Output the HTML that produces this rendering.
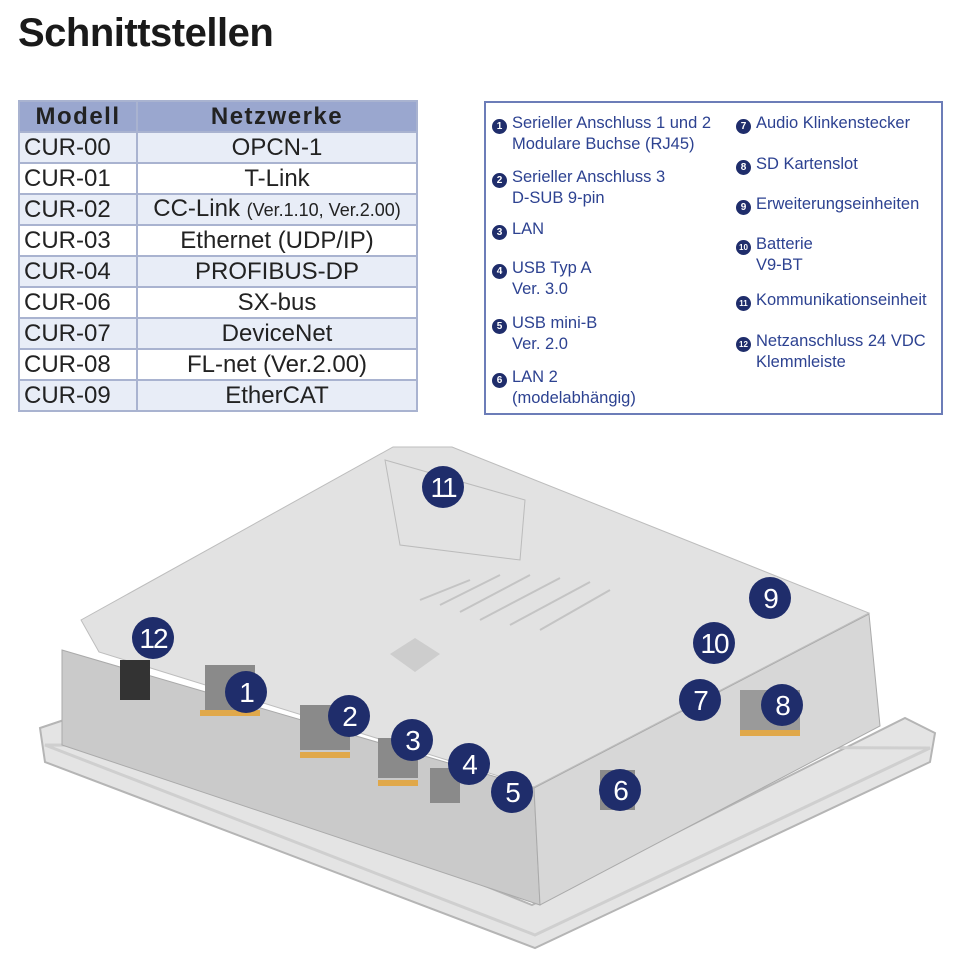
<!DOCTYPE html>
<html><head><meta charset="utf-8"><style>
body{margin:0;width:960px;height:960px;background:#fff;position:relative;overflow:hidden;font-family:"Liberation Sans",sans-serif;color:#222}
h1{position:absolute;left:18px;top:11px;margin:0;font-size:40px;font-weight:bold;letter-spacing:-0.5px;color:#1a1a1a}
table{position:absolute;left:18px;top:100px;border-collapse:collapse;width:400px}
tr{height:31px}
td{border:2px solid #a9b3d0;padding:0 4px;font-size:24px;line-height:27px;color:#222}
td.c{text-align:center}
tr.h td{background:#9aa7cf;font-weight:bold;letter-spacing:1.5px;text-align:center}
tr.o td{background:#e8edf7}
.leg{position:absolute;left:484px;top:101px;width:455px;height:310px;border:2px solid #6c7db8}
.it{position:absolute;font-size:16.5px;line-height:21px;color:#2d4291}
.b{display:inline-block;width:15px;height:15px;border-radius:50%;background:#1f2d6b;color:#fff;font-size:10px;line-height:15px;text-align:center;vertical-align:-1px;margin-right:5px;font-weight:bold}
.in{padding-left:20px}
</style></head><body>
<h1>Schnittstellen</h1>
<table>
<tr class="h"><td style="width:108px">Modell</td><td>Netzwerke</td></tr>
<tr class="o"><td>CUR-00</td><td class="c">OPCN-1</td></tr>
<tr><td>CUR-01</td><td class="c">T-Link</td></tr>
<tr class="o"><td>CUR-02</td><td class="c" style="white-space:nowrap;padding:0 1px">CC-Link <span style="font-size:18px">(Ver.1.10, Ver.2.00)</span></td></tr>
<tr><td>CUR-03</td><td class="c">Ethernet (UDP/IP)</td></tr>
<tr class="o"><td>CUR-04</td><td class="c">PROFIBUS-DP</td></tr>
<tr><td>CUR-06</td><td class="c">SX-bus</td></tr>
<tr class="o"><td>CUR-07</td><td class="c">DeviceNet</td></tr>
<tr><td>CUR-08</td><td class="c">FL-net (Ver.2.00)</td></tr>
<tr class="o"><td>CUR-09</td><td class="c">EtherCAT</td></tr>
</table>
<div class="leg"></div>
<div class="it" style="left:492px;top:113px"><span class="b">1</span>Serieller Anschluss 1 und 2<div class="in">Modulare Buchse (RJ45)</div></div>
<div class="it" style="left:492px;top:167px"><span class="b">2</span>Serieller Anschluss 3<div class="in">D-SUB 9-pin</div></div>
<div class="it" style="left:492px;top:219px"><span class="b">3</span>LAN</div>
<div class="it" style="left:492px;top:258px"><span class="b">4</span>USB Typ A<div class="in">Ver. 3.0</div></div>
<div class="it" style="left:492px;top:313px"><span class="b">5</span>USB mini-B<div class="in">Ver. 2.0</div></div>
<div class="it" style="left:492px;top:367px"><span class="b">6</span>LAN 2<div class="in">(modelabhängig)</div></div>
<div class="it" style="left:736px;top:113px"><span class="b">7</span>Audio Klinkenstecker</div>
<div class="it" style="left:736px;top:154px"><span class="b">8</span>SD Kartenslot</div>
<div class="it" style="left:736px;top:194px"><span class="b">9</span>Erweiterungseinheiten</div>
<div class="it" style="left:736px;top:234px"><span class="b" style="font-size:8px">10</span>Batterie<div class="in">V9-BT</div></div>
<div class="it" style="left:736px;top:290px"><span class="b" style="font-size:8px">11</span>Kommunikationseinheit</div>
<div class="it" style="left:736px;top:331px"><span class="b" style="font-size:8px">12</span>Netzanschluss 24 VDC<div class="in">Klemmleiste</div></div>

<svg width="960" height="960" style="position:absolute;left:0;top:0">
<polygon points="40,728 70,718 532,905 905,718 935,733 930,762 535,948 45,762" fill="#e4e4e4" stroke="#b5b5b5" stroke-width="2"/>
<polygon points="45,745 535,935 930,748" fill="none" stroke="#cfcfcf" stroke-width="3"/>
<polygon points="62,650 534,788 540,905 62,745" fill="#cacaca" stroke="#aaa"/>
<polygon points="534,788 869,614 880,726 540,905" fill="#d7d7d7" stroke="#aaa"/>
<polygon points="81,620 393,447 452,447 869,613 534,787 99,652" fill="#e2e2e2" stroke="#bdbdbd"/>
<polygon points="390,654 415,638 440,654 415,672" fill="#cdcdcd"/>
<polygon points="385,460 525,500 520,560 400,545" fill="none" stroke="#bbb"/>
<g stroke="#c4c4c4" stroke-width="2">
<line x1="420" y1="600" x2="470" y2="580"/><line x1="440" y1="605" x2="500" y2="575"/><line x1="460" y1="612" x2="530" y2="575"/><line x1="480" y1="620" x2="560" y2="578"/><line x1="510" y1="625" x2="590" y2="582"/><line x1="540" y1="630" x2="610" y2="590"/>
</g>
<rect x="120" y="660" width="30" height="40" fill="#333"/>
<rect x="205" y="665" width="50" height="45" fill="#8a8a8a"/>
<rect x="300" y="705" width="50" height="45" fill="#8a8a8a"/>
<rect x="378" y="738" width="40" height="40" fill="#8a8a8a"/>
<rect x="430" y="768" width="30" height="35" fill="#8a8a8a"/>
<rect x="600" y="770" width="35" height="40" fill="#8a8a8a"/>
<rect x="740" y="690" width="60" height="40" fill="#9a9a9a"/>
<g fill="#e0a84a"><rect x="200" y="710" width="60" height="6"/><rect x="300" y="752" width="50" height="6"/><rect x="378" y="780" width="40" height="6"/><rect x="740" y="730" width="60" height="6"/></g>
<g fill="#1f2d6b">
<circle cx="443" cy="487" r="21"/><circle cx="770" cy="598" r="21"/><circle cx="153" cy="638" r="21"/><circle cx="714" cy="643" r="21"/><circle cx="246" cy="692" r="21"/><circle cx="700" cy="700" r="21"/><circle cx="782" cy="705" r="21"/><circle cx="349" cy="716" r="21"/><circle cx="412" cy="740" r="21"/><circle cx="469" cy="764" r="21"/><circle cx="512" cy="792" r="21"/><circle cx="620" cy="790" r="21"/>
</g>
<g fill="#fff" font-family="Liberation Sans,sans-serif" font-size="28" text-anchor="middle" letter-spacing="-2">
<text x="443" y="497">11</text><text x="770" y="608">9</text><text x="153" y="648">12</text><text x="714" y="653">10</text><text x="246" y="702">1</text><text x="700" y="710">7</text><text x="782" y="715">8</text><text x="349" y="726">2</text><text x="412" y="750">3</text><text x="469" y="774">4</text><text x="512" y="802">5</text><text x="620" y="800">6</text>
</g>
</svg>
</body></html>
